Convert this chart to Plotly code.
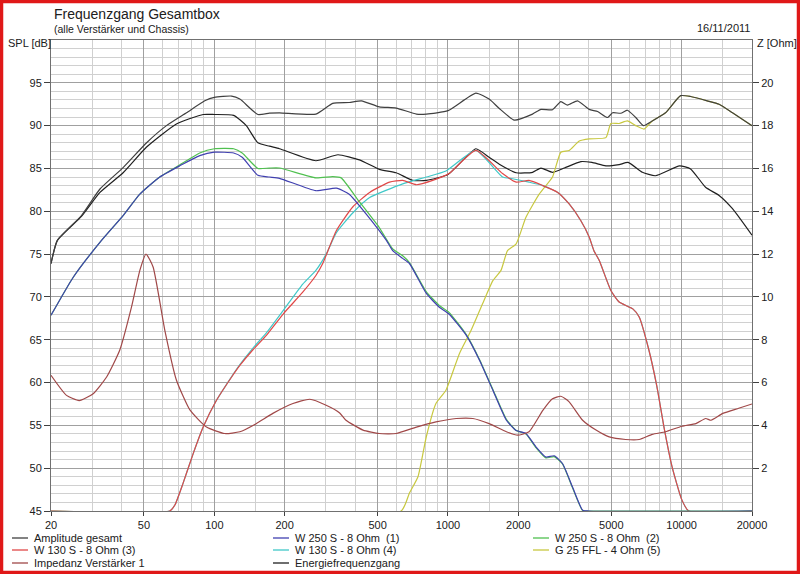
import plotly.graph_objs as go

# Amplitude gesamt
amp_f = [20, 21.3, 27, 32.4, 40.7, 51.3, 62.4, 76, 91, 100, 118.6, 128.6, 153.6, 172, 190, 272, 321, 378,
         426, 508, 600, 733, 808, 1000, 1316, 1500, 1658, 1923, 2300, 2500, 2800, 3040, 3248, 3584, 4020,
         4368, 4818, 5064, 5490, 5858, 6358, 6852, 7486, 8528, 9900, 10920, 12860, 14460, 16500, 20000]
amp_db = [73.9, 76.6, 79.5, 82.6, 85.1, 88.0, 90.0, 91.5, 92.9, 93.3, 93.45, 93.1, 91.3, 91.45, 91.5, 91.35,
          92.6, 92.7, 92.9, 92.2, 92.05, 91.35, 91.35, 91.75, 93.8, 93.1, 92.0, 90.65, 91.35, 91.9, 91.85,
          92.8, 92.4, 92.9, 91.9, 91.65, 90.95, 91.5, 91.45, 91.8, 90.95, 90.0, 90.55, 91.5, 93.5, 93.4,
          92.9, 92.5, 91.5, 90.0]

# W 250 S - 8 Ohm (1)
w1_f = [20, 24.9, 32.9, 40.7, 48, 58.4, 71, 86.6, 100, 121, 131.6, 153.6, 172, 190, 272, 333, 378, 446,
        545, 580, 640, 684, 808, 918, 1010, 1198, 1364, 1556, 1778, 1958, 2156, 2378, 2624, 2848, 3090,
        3412, 3768, 4000, 20000]
w1_db = [67.85, 72.3, 76.6, 79.5, 82.0, 84.0, 85.3, 86.5, 86.9, 86.8, 86.3, 84.2, 84.0, 83.85, 82.4, 82.7,
         82.0, 79.7, 76.6, 75.4, 74.5, 73.9, 70.4, 68.8, 68.0, 65.5, 62.6, 59.1, 55.6, 54.4, 54.05, 52.5,
         51.3, 51.45, 50.55, 47.8, 45.1, 45, 45]

# W 250 S - 8 Ohm (2)
w2_f = [20, 24.9, 32.9, 40.7, 48, 58.4, 71, 86.6, 100, 121, 131.6, 153.6, 172, 190, 272, 321, 349, 410,
        508, 580, 640, 684, 808, 918, 1010, 1198, 1364, 1556, 1778, 1958, 2156, 2378, 2624, 2848, 3090,
        3412, 3768, 4000, 20000]
w2_db = [67.85, 72.3, 76.6, 79.5, 82.0, 84.0, 85.4, 86.8, 87.3, 87.3, 86.8, 85.0, 85.05, 85.05, 83.9, 84.05,
         83.9, 81.4, 78.1, 75.6, 74.8, 74.0, 70.6, 69.0, 68.2, 65.6, 62.7, 59.2, 55.7, 54.4, 54.0, 52.4,
         51.2, 51.35, 50.5, 47.7, 45.05, 45, 45]

# W 130 S - 8 Ohm (3)
w3_f = [20, 64.4, 67.8, 73.4, 81.2, 89.6, 102, 118.6, 128.6, 146, 167, 197, 239, 272, 291, 333, 391, 462,
        562, 640, 733, 860, 1010, 1316, 1712, 1958, 2222, 2546, 2948, 3300, 3704, 4020, 4212, 4440, 4978,
        5400, 6180, 6580, 7240, 7840, 8400, 9100, 10020, 10720, 20000]
w3_db = [45, 45, 45.7, 48.2, 51.7, 54.8, 57.9, 60.65, 62.0, 63.8, 65.5, 68.0, 70.55, 72.5, 73.9, 77.75,
         80.5, 82.2, 83.4, 83.6, 83.1, 83.6, 84.4, 87.1, 84.4, 83.4, 83.6, 83.0, 82.2, 80.85, 78.9, 77.0,
         75.4, 74.25, 70.75, 69.4, 68.6, 67.65, 63.8, 59.5, 54.8, 50.15, 46.3, 45, 45]

# W 130 S - 8 Ohm (4)
w4_f = [20, 64.4, 67.8, 73.4, 81.2, 89.6, 102, 118.6, 128.6, 146, 167, 197, 239, 272, 301, 333, 391, 462,
        640, 808, 980, 1316, 1712, 1888, 2222, 2546, 2948, 3300, 3704, 4020, 4212, 4440, 4978, 5400,
        6180, 6580, 7240, 7840, 8400, 9100, 10020, 10720, 20000]
w4_db = [45, 45, 45.7, 48.2, 51.7, 54.8, 57.9, 60.7, 62.1, 64.0, 65.8, 68.4, 71.5, 73.1, 75.0, 77.5, 79.8,
         81.6, 83.2, 84.0, 84.7, 87.1, 84.0, 83.8, 83.4, 83.0, 82.2, 80.85, 78.9, 77.0, 75.4, 74.25,
         70.75, 69.4, 68.6, 67.65, 63.8, 59.5, 54.8, 50.15, 46.3, 45, 45]

# G 25 FFL - 4 Ohm (5)
g5_f = [20, 630, 684, 744, 808, 888, 980, 1120, 1256, 1406, 1556, 1686, 1798, 1958, 2156, 2456, 2800, 3040,
        3300, 3646, 4020, 4740, 4978, 5400, 5858, 6358, 6900, 7486, 8528, 9900, 10920, 12860, 14460,
        16500, 20000]
g5_db = [45, 45, 47.1, 49.0, 53.7, 57.55, 59.1, 63.4, 66.1, 69.2, 71.9, 73.1, 75.4, 76.2, 79.3, 82.0, 84.0,
         86.9, 87.1, 88.2, 88.45, 88.6, 90.25, 90.25, 90.55, 90.0, 89.6, 90.55, 91.5, 93.5, 93.4, 92.9,
         92.5, 91.5, 90.0]

# Impedanz Verstaerker 1 (Ohm, right axis)
imp_f = [20, 23.3, 26.4, 30.3, 34.6, 39.4, 44.2, 48, 51, 54.7, 61.4, 68.8, 78.6, 92.6, 110.8, 128.6, 151,
         178, 217, 256, 301, 344, 366, 433, 508, 600, 733, 888, 1084, 1278, 1500, 1778, 1984, 2222, 2546,
         2800, 3040, 3300, 3768, 4300, 4896, 5758, 6580, 7486, 8528, 10020, 11500, 12660, 13360, 15000,
         17540, 20000]
imp_ohm = [6.34, 5.4, 5.16, 5.48, 6.26, 7.52, 9.52, 11.24, 12.0, 11.4, 8.44, 6.12, 4.72, 3.92, 3.62, 3.7,
           4.08, 4.56, 5.02, 5.22, 4.94, 4.58, 4.24, 3.78, 3.62, 3.62, 3.92, 4.16, 4.32, 4.32, 4.08, 3.7,
           3.54, 3.7, 4.7, 5.24, 5.36, 5.1, 4.24, 3.78, 3.46, 3.34, 3.34, 3.58, 3.7, 3.96, 4.08, 4.32,
           4.24, 4.56, 4.8, 5.0]

# Energiefrequenzgang
en_f = [20, 21.3, 27, 32.4, 40.7, 51.3, 68.8, 89.6, 100, 121, 137, 153.6, 172, 190, 272, 338, 418, 508, 600,
        706, 808, 1000, 1316, 1500, 1658, 1958, 2300, 2500, 2800, 3148, 3704, 4130, 4740, 5400, 5900,
        6790, 7720, 9800, 10920, 12660, 14460, 16500, 20000]
en_db = [73.9, 76.6, 79.4, 82.2, 84.5, 87.5, 90.2, 91.3, 91.3, 91.2, 90.0, 88.0, 87.6, 87.3, 85.9, 86.6,
         86.0, 84.9, 84.5, 83.6, 83.6, 84.3, 87.3, 86.3, 85.5, 84.5, 84.55, 85.05, 84.55, 85.05, 85.8, 85.7,
         85.3, 85.45, 85.7, 84.55, 84.15, 85.3, 84.95, 82.8, 81.85, 80.3, 77.2]

names = ["Amplitude gesamt", "W 250 S - 8 Ohm  (1)", "W 250 S - 8 Ohm  (2)",
         "W 130 S - 8 Ohm (3)", "W 130 S - 8 Ohm (4)", "G 25 FFL - 4 Ohm (5)",
         "Impedanz Verstärker 1", "Energiefrequenzgang"]
colors = ["#404040", "#4040b0", "#50c050", "#e04848", "#40c8c8", "#c8c840", "#a04848", "#202020"]
series = [(amp_f, amp_db, "y"), (w1_f, w1_db, "y"), (w2_f, w2_db, "y"), (w3_f, w3_db, "y"),
          (w4_f, w4_db, "y"), (g5_f, g5_db, "y"), (imp_f, imp_ohm, "y2"), (en_f, en_db, "y")]

x_major = [20, 50, 100, 200, 500, 1000, 2000, 5000, 10000, 20000]
x_minor = [30, 40, 60, 70, 80, 90, 150, 300, 400, 600, 700, 800, 900, 1500,
           3000, 4000, 6000, 7000, 8000, 9000, 15000]
spl_ticks = [45, 50, 55, 60, 65, 70, 75, 80, 85, 90, 95]
z_ticks = [2, 4, 6, 8, 10, 12, 14, 16, 18, 20]

W, H = 800, 574
L, R, T, B = 51, 752, 40, 511


def px(x):
    return (x - L) / (R - L)


def py(y):
    return (B - y) / (B - T)


fig = go.Figure()

# first legend entry ends up on top, so draw in reverse
for i in reversed(range(len(names))):
    f, v, ax = series[i]
    fig.add_trace(go.Scatter(x=f, y=v, mode="lines", name=names[i], yaxis=ax,
                             line=dict(color=colors[i], width=1.2, shape="spline", smoothing=0.5),
                             showlegend=False))

font = dict(family="Liberation Sans, Arial, sans-serif", size=11, color="#202020")

annotations = [
    dict(text="Frequenzgang Gesamtbox", x=px(52), y=py(14), font=dict(size=14, color="#202020",
         family=font["family"])),
    dict(text="(alle Verstärker und Chassis)", x=px(52), y=py(29), font=dict(size=10.5, color="#202020",
         family=font["family"])),
    dict(text="SPL [dB]", x=px(6), y=py(43), font=font),
    dict(text="Z [Ohm]", x=px(755), y=py(43), font=font),
    dict(text="16/11/2011", x=px(752), y=py(28), font=font, xanchor="right"),
]
shapes = []

# manual legend, 3 columns
col_x = [12, 273, 533]
row_y = [538, 550, 563]
for i, name in enumerate(names):
    cx = col_x[i % 3]
    ry = row_y[i // 3]
    shapes.append(dict(type="line", xref="paper", yref="paper", x0=px(cx), x1=px(cx + 16),
                       y0=py(ry), y1=py(ry), line=dict(color=colors[i], width=1.3)))
    annotations.append(dict(text=name, x=px(cx + 20), y=py(ry), font=font))

for a in annotations:
    a.update(xref="paper", yref="paper", showarrow=False)
    a.setdefault("xanchor", "left")
    a.setdefault("yanchor", "middle")

# red frame round the image
shapes.append(dict(type="rect", xref="paper", yref="paper", x0=px(1.5), x1=px(W - 1.5),
                   y0=py(H - 1.5), y1=py(1.5), line=dict(color="#e01818", width=3.5)))

fig.update_layout(
    width=W, height=H,
    margin=dict(l=L, r=W - R, t=T, b=H - B),
    paper_bgcolor="white", plot_bgcolor="white",
    font=font,
    annotations=annotations, shapes=shapes,
    showlegend=False,
    xaxis=dict(type="log", range=[1.30103, 4.30103], tickvals=x_major, ticktext=[str(v) for v in x_major],
               ticks="outside", ticklen=4, tickcolor="#404040", showgrid=True, gridcolor="#a0a0a0",
               gridwidth=1, showline=True, linecolor="#707070", mirror=True, zeroline=False,
               minor=dict(tickvals=x_minor, showgrid=True, gridcolor="#d0d0d0", ticks=""),
               tickfont=font),
    yaxis=dict(range=[45, 100], tickvals=spl_ticks, ticks="outside", ticklen=6, tickcolor="#404040",
               showgrid=True, gridcolor="#a0a0a0", showline=True, linecolor="#707070", mirror=True,
               zeroline=False, minor=dict(dtick=1, tick0=45, showgrid=True, gridcolor="#d0d0d0", ticks=""),
               tickfont=font),
    yaxis2=dict(range=[0, 22], overlaying="y", side="right", tickvals=z_ticks, ticks="outside",
                ticklen=6, tickcolor="#404040", showgrid=False, zeroline=False, tickfont=font),
)

# page body has a default margin; drop it so the figure sits at the window corner
fig.write_html("out.html", config={"displayModeBar": False},
               post_script="document.body.style.margin='0';")
